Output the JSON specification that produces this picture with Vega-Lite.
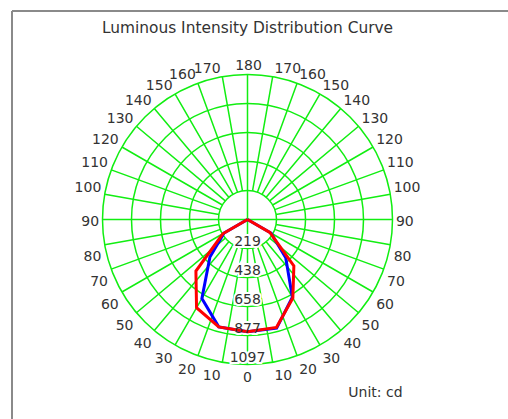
{
  "$schema": "https://vega.github.io/schema/vega-lite/v6.json",
  "width": 497,
  "height": 409,
  "autosize": {"type": "none"},
  "padding": {"left": 11, "top": 10, "right": 0, "bottom": 0},
  "background": "white",
  "title": {"text": "Luminous Intensity Distribution Curve", "font": "DejaVu Sans", "fontSize": 15.4, "fontWeight": "normal", "color": "#333333", "anchor": "middle", "frame": "group", "orient": "top", "offset": -38.5, "baseline": "alphabetic", "dx": -12},
  "config": {
    "view": {"stroke": null},
    "text": {"font": "DejaVu Sans", "fontSize": 14, "fill": "#333333"}
  },
  "datasets": {
    "rings": [
      {"cd": 219.4, "label": "219"},
      {"cd": 438.8, "label": "438"},
      {"cd": 658.2, "label": "658"},
      {"cd": 877.6, "label": "877"},
      {"cd": 1097, "label": "1097"}
    ],
    "spokes": [
      {"deg": 0, "inner": 0}, {"deg": 10, "inner": 219.4}, {"deg": 20, "inner": 219.4}, {"deg": 30, "inner": 219.4},
      {"deg": 40, "inner": 219.4}, {"deg": 50, "inner": 219.4}, {"deg": 60, "inner": 219.4}, {"deg": 70, "inner": 219.4},
      {"deg": 80, "inner": 219.4}, {"deg": 90, "inner": 0}, {"deg": 100, "inner": 219.4}, {"deg": 110, "inner": 219.4},
      {"deg": 120, "inner": 219.4}, {"deg": 130, "inner": 219.4}, {"deg": 140, "inner": 219.4}, {"deg": 150, "inner": 219.4},
      {"deg": 160, "inner": 219.4}, {"deg": 170, "inner": 219.4}, {"deg": 180, "inner": 0}, {"deg": 190, "inner": 219.4},
      {"deg": 200, "inner": 219.4}, {"deg": 210, "inner": 219.4}, {"deg": 220, "inner": 219.4}, {"deg": 230, "inner": 219.4},
      {"deg": 240, "inner": 219.4}, {"deg": 250, "inner": 219.4}, {"deg": 260, "inner": 219.4}, {"deg": 270, "inner": 0},
      {"deg": 280, "inner": 219.4}, {"deg": 290, "inner": 219.4}, {"deg": 300, "inner": 219.4}, {"deg": 310, "inner": 219.4},
      {"deg": 320, "inner": 219.4}, {"deg": 330, "inner": 219.4}, {"deg": 340, "inner": 219.4}, {"deg": 350, "inner": 219.4}
    ],
    "angles": [
      {"side": "L", "angle": 0, "label": "0"}, {"side": "L", "angle": 10, "label": "10"}, {"side": "L", "angle": 20, "label": "20"},
      {"side": "L", "angle": 30, "label": "30"}, {"side": "L", "angle": 40, "label": "40"}, {"side": "L", "angle": 50, "label": "50"},
      {"side": "L", "angle": 60, "label": "60"}, {"side": "L", "angle": 70, "label": "70"}, {"side": "L", "angle": 80, "label": "80"},
      {"side": "L", "angle": 90, "label": "90"}, {"side": "L", "angle": 100, "label": "100"}, {"side": "L", "angle": 110, "label": "110"},
      {"side": "L", "angle": 120, "label": "120"}, {"side": "L", "angle": 130, "label": "130"}, {"side": "L", "angle": 140, "label": "140"},
      {"side": "L", "angle": 150, "label": "150"}, {"side": "L", "angle": 160, "label": "160"}, {"side": "L", "angle": 170, "label": "170"},
      {"side": "L", "angle": 180, "label": "180"},
      {"side": "R", "angle": 10, "label": "10"}, {"side": "R", "angle": 20, "label": "20"}, {"side": "R", "angle": 30, "label": "30"},
      {"side": "R", "angle": 40, "label": "40"}, {"side": "R", "angle": 50, "label": "50"}, {"side": "R", "angle": 60, "label": "60"},
      {"side": "R", "angle": 70, "label": "70"}, {"side": "R", "angle": 80, "label": "80"}, {"side": "R", "angle": 90, "label": "90"},
      {"side": "R", "angle": 100, "label": "100"}, {"side": "R", "angle": 110, "label": "110"}, {"side": "R", "angle": 120, "label": "120"},
      {"side": "R", "angle": 130, "label": "130"}, {"side": "R", "angle": 140, "label": "140"}, {"side": "R", "angle": 150, "label": "150"},
      {"side": "R", "angle": 160, "label": "160"}, {"side": "R", "angle": 170, "label": "170"}
    ],
    "curves": [
      {"series": "C90/C270", "side": "L", "angle": 0, "cd": 850}, {"series": "C90/C270", "side": "L", "angle": 15, "cd": 841},
      {"series": "C90/C270", "side": "L", "angle": 30, "cd": 690}, {"series": "C90/C270", "side": "L", "angle": 45, "cd": 402},
      {"series": "C90/C270", "side": "L", "angle": 60, "cd": 205}, {"series": "C90/C270", "side": "L", "angle": 75, "cd": 0},
      {"series": "C90/C270", "side": "L", "angle": 90, "cd": 0},
      {"series": "C90/C270", "side": "R", "angle": 0, "cd": 850}, {"series": "C90/C270", "side": "R", "angle": 15, "cd": 851},
      {"series": "C90/C270", "side": "R", "angle": 30, "cd": 679}, {"series": "C90/C270", "side": "R", "angle": 45, "cd": 409},
      {"series": "C90/C270", "side": "R", "angle": 60, "cd": 205}, {"series": "C90/C270", "side": "R", "angle": 75, "cd": 0},
      {"series": "C90/C270", "side": "R", "angle": 90, "cd": 0},
      {"series": "C0/C180", "side": "L", "angle": 0, "cd": 850}, {"series": "C0/C180", "side": "L", "angle": 15, "cd": 841},
      {"series": "C0/C180", "side": "L", "angle": 30, "cd": 771}, {"series": "C0/C180", "side": "L", "angle": 45, "cd": 552},
      {"series": "C0/C180", "side": "L", "angle": 60, "cd": 216}, {"series": "C0/C180", "side": "L", "angle": 75, "cd": 0},
      {"series": "C0/C180", "side": "L", "angle": 90, "cd": 0},
      {"series": "C0/C180", "side": "R", "angle": 0, "cd": 850}, {"series": "C0/C180", "side": "R", "angle": 15, "cd": 845},
      {"series": "C0/C180", "side": "R", "angle": 30, "cd": 686}, {"series": "C0/C180", "side": "R", "angle": 45, "cd": 496},
      {"series": "C0/C180", "side": "R", "angle": 60, "cd": 195}, {"series": "C0/C180", "side": "R", "angle": 75, "cd": 0},
      {"series": "C0/C180", "side": "R", "angle": 90, "cd": 0}
    ],
    "note": [{"text": "Unit: cd", "nx": 762.6, "ny": -1339.1}]
  },
  "layer": [
    {
      "data": {"name": "rings"},
      "mark": {"type": "arc", "filled": false, "stroke": "#11ee11", "strokeWidth": 1.5, "theta": 0, "theta2": 6.2832},
      "encoding": {
        "x": {"datum": 0, "type": "quantitative", "scale": {"domain": [-1789.25, 1970.82], "nice": false, "zero": false}, "axis": {"orient": "top", "labels": false, "ticks": false, "grid": false, "title": null, "domainColor": "#8a8a8a", "domainWidth": 2, "translate": 1}},
        "y": {"datum": 0, "type": "quantitative", "scale": {"domain": [-1509.32, 1584.98], "nice": false, "zero": false}, "axis": {"orient": "left", "labels": false, "ticks": false, "grid": false, "title": null, "domainColor": "#8a8a8a", "domainWidth": 2, "translate": 1}},
        "radius": {"field": "cd", "type": "quantitative", "stack": null, "scale": {"type": "linear", "domain": [0, 1097], "range": [0, 145], "nice": false, "zero": true}}
      }
    },
    {
      "data": {"name": "spokes"},
      "transform": [{"calculate": "1097", "as": "outer"}],
      "mark": {"type": "arc", "filled": false, "stroke": "#11ee11", "strokeWidth": 1.5},
      "encoding": {
        "x": {"datum": 0, "type": "quantitative", "axis": {"orient": "top", "labels": false, "ticks": false, "grid": false, "title": null, "domainColor": "#8a8a8a", "domainWidth": 2, "translate": 1}},
        "y": {"datum": 0, "type": "quantitative", "axis": {"orient": "left", "labels": false, "ticks": false, "grid": false, "title": null, "domainColor": "#8a8a8a", "domainWidth": 2, "translate": 1}},
        "theta": {"field": "deg", "type": "quantitative", "stack": null, "scale": {"type": "linear", "domain": [0, 360], "range": [0, 6.283185307179586], "nice": false, "zero": false}},
        "theta2": {"field": "deg"},
        "radius": {"field": "outer", "type": "quantitative", "stack": null},
        "radius2": {"field": "inner"}
      }
    },
    {
      "data": {"name": "rings"},
      "transform": [{"calculate": "-datum.cd", "as": "ny"}],
      "mark": {"type": "text", "fill": "white", "stroke": "white", "strokeWidth": 4, "align": "center", "baseline": "alphabetic", "dy": -2.5},
      "encoding": {
        "x": {"datum": 0, "type": "quantitative", "axis": {"orient": "top", "labels": false, "ticks": false, "grid": false, "title": null, "domainColor": "#8a8a8a", "domainWidth": 2, "translate": 1}},
        "y": {"field": "ny", "type": "quantitative", "axis": {"orient": "left", "labels": false, "ticks": false, "grid": false, "title": null, "domainColor": "#8a8a8a", "domainWidth": 2, "translate": 1}},
        "text": {"field": "label"}
      }
    },
    {
      "data": {"name": "curves"},
      "transform": [
        {"calculate": "datum.angle * PI / 180", "as": "rad"},
        {"calculate": "(datum.side == 'L' ? -1 : 1) * datum.cd * sin(datum.rad)", "as": "px"},
        {"calculate": "-datum.cd * cos(datum.rad)", "as": "py"},
        {"calculate": "datum.side == 'L' ? -datum.angle : datum.angle", "as": "ord"}
      ],
      "mark": {"type": "line", "strokeWidth": 3, "strokeJoin": "miter"},
      "encoding": {
        "x": {"field": "px", "type": "quantitative", "axis": {"orient": "top", "labels": false, "ticks": false, "grid": false, "title": null, "domainColor": "#8a8a8a", "domainWidth": 2, "translate": 1}},
        "y": {"field": "py", "type": "quantitative", "axis": {"orient": "left", "labels": false, "ticks": false, "grid": false, "title": null, "domainColor": "#8a8a8a", "domainWidth": 2, "translate": 1}},
        "order": {"field": "ord", "type": "quantitative"},
        "color": {"field": "series", "type": "nominal", "scale": {"domain": ["C90/C270", "C0/C180"], "range": ["#0000ff", "#ff0000"]}, "legend": null}
      }
    },
    {
      "data": {"name": "rings"},
      "transform": [{"calculate": "-datum.cd", "as": "ny"}],
      "mark": {"type": "text", "align": "center", "baseline": "alphabetic", "dy": -2.5},
      "encoding": {
        "x": {"datum": 0, "type": "quantitative", "axis": {"orient": "top", "labels": false, "ticks": false, "grid": false, "title": null, "domainColor": "#8a8a8a", "domainWidth": 2, "translate": 1}},
        "y": {"field": "ny", "type": "quantitative", "axis": {"orient": "left", "labels": false, "ticks": false, "grid": false, "title": null, "domainColor": "#8a8a8a", "domainWidth": 2, "translate": 1}},
        "text": {"field": "label"}
      }
    },
    {
      "data": {"name": "angles"},
      "transform": [
        {"filter": "datum.side == 'L' && datum.angle > 90 && datum.angle < 180"},
        {"calculate": "180 + datum.angle", "as": "th"}, {"calculate": "1097", "as": "outer"}
      ],
      "mark": {"type": "text", "align": "right", "baseline": "alphabetic", "radiusOffset": 2, "dx": -1.4, "dy": -2},
      "encoding": {
        "x": {"datum": 0, "type": "quantitative", "axis": {"orient": "top", "labels": false, "ticks": false, "grid": false, "title": null, "domainColor": "#8a8a8a", "domainWidth": 2, "translate": 1}},
        "y": {"datum": 0, "type": "quantitative", "axis": {"orient": "left", "labels": false, "ticks": false, "grid": false, "title": null, "domainColor": "#8a8a8a", "domainWidth": 2, "translate": 1}},
        "theta": {"field": "th", "type": "quantitative", "stack": null},
        "radius": {"field": "outer", "type": "quantitative", "stack": null},
        "text": {"field": "label"}
      }
    },
    {
      "data": {"name": "angles"},
      "transform": [
        {"filter": "datum.side == 'L' && datum.angle > 0 && datum.angle < 90"},
        {"calculate": "180 + datum.angle", "as": "th"}, {"calculate": "1097", "as": "outer"}
      ],
      "mark": {"type": "text", "align": "right", "baseline": "alphabetic", "radiusOffset": 2, "dx": -1.4, "dy": 16},
      "encoding": {
        "x": {"datum": 0, "type": "quantitative", "axis": {"orient": "top", "labels": false, "ticks": false, "grid": false, "title": null, "domainColor": "#8a8a8a", "domainWidth": 2, "translate": 1}},
        "y": {"datum": 0, "type": "quantitative", "axis": {"orient": "left", "labels": false, "ticks": false, "grid": false, "title": null, "domainColor": "#8a8a8a", "domainWidth": 2, "translate": 1}},
        "theta": {"field": "th", "type": "quantitative", "stack": null},
        "radius": {"field": "outer", "type": "quantitative", "stack": null},
        "text": {"field": "label"}
      }
    },
    {
      "data": {"name": "angles"},
      "transform": [
        {"filter": "datum.side == 'L' && datum.angle == 90"},
        {"calculate": "180 + datum.angle", "as": "th"}, {"calculate": "1097", "as": "outer"}
      ],
      "mark": {"type": "text", "align": "right", "baseline": "alphabetic", "radiusOffset": 2, "dx": -1.4, "dy": 6.5},
      "encoding": {
        "x": {"datum": 0, "type": "quantitative", "axis": {"orient": "top", "labels": false, "ticks": false, "grid": false, "title": null, "domainColor": "#8a8a8a", "domainWidth": 2, "translate": 1}},
        "y": {"datum": 0, "type": "quantitative", "axis": {"orient": "left", "labels": false, "ticks": false, "grid": false, "title": null, "domainColor": "#8a8a8a", "domainWidth": 2, "translate": 1}},
        "theta": {"field": "th", "type": "quantitative", "stack": null},
        "radius": {"field": "outer", "type": "quantitative", "stack": null},
        "text": {"field": "label"}
      }
    },
    {
      "data": {"name": "angles"},
      "transform": [
        {"filter": "datum.side == 'R' && datum.angle > 90 && datum.angle < 180"},
        {"calculate": "180 - datum.angle", "as": "th"}, {"calculate": "1097", "as": "outer"}
      ],
      "mark": {"type": "text", "align": "left", "baseline": "alphabetic", "radiusOffset": 2, "dx": 1.4, "dy": -2},
      "encoding": {
        "x": {"datum": 0, "type": "quantitative", "axis": {"orient": "top", "labels": false, "ticks": false, "grid": false, "title": null, "domainColor": "#8a8a8a", "domainWidth": 2, "translate": 1}},
        "y": {"datum": 0, "type": "quantitative", "axis": {"orient": "left", "labels": false, "ticks": false, "grid": false, "title": null, "domainColor": "#8a8a8a", "domainWidth": 2, "translate": 1}},
        "theta": {"field": "th", "type": "quantitative", "stack": null},
        "radius": {"field": "outer", "type": "quantitative", "stack": null},
        "text": {"field": "label"}
      }
    },
    {
      "data": {"name": "angles"},
      "transform": [
        {"filter": "datum.side == 'R' && datum.angle > 0 && datum.angle < 90"},
        {"calculate": "180 - datum.angle", "as": "th"}, {"calculate": "1097", "as": "outer"}
      ],
      "mark": {"type": "text", "align": "left", "baseline": "alphabetic", "radiusOffset": 2, "dx": 1.4, "dy": 16},
      "encoding": {
        "x": {"datum": 0, "type": "quantitative", "axis": {"orient": "top", "labels": false, "ticks": false, "grid": false, "title": null, "domainColor": "#8a8a8a", "domainWidth": 2, "translate": 1}},
        "y": {"datum": 0, "type": "quantitative", "axis": {"orient": "left", "labels": false, "ticks": false, "grid": false, "title": null, "domainColor": "#8a8a8a", "domainWidth": 2, "translate": 1}},
        "theta": {"field": "th", "type": "quantitative", "stack": null},
        "radius": {"field": "outer", "type": "quantitative", "stack": null},
        "text": {"field": "label"}
      }
    },
    {
      "data": {"name": "angles"},
      "transform": [
        {"filter": "datum.side == 'R' && datum.angle == 90"},
        {"calculate": "180 - datum.angle", "as": "th"}, {"calculate": "1097", "as": "outer"}
      ],
      "mark": {"type": "text", "align": "left", "baseline": "alphabetic", "radiusOffset": 2, "dx": 1.4, "dy": 6.5},
      "encoding": {
        "x": {"datum": 0, "type": "quantitative", "axis": {"orient": "top", "labels": false, "ticks": false, "grid": false, "title": null, "domainColor": "#8a8a8a", "domainWidth": 2, "translate": 1}},
        "y": {"datum": 0, "type": "quantitative", "axis": {"orient": "left", "labels": false, "ticks": false, "grid": false, "title": null, "domainColor": "#8a8a8a", "domainWidth": 2, "translate": 1}},
        "theta": {"field": "th", "type": "quantitative", "stack": null},
        "radius": {"field": "outer", "type": "quantitative", "stack": null},
        "text": {"field": "label"}
      }
    },
    {
      "data": {"name": "angles"},
      "transform": [
        {"filter": "datum.angle == 180"},
        {"calculate": "360", "as": "th"}, {"calculate": "1097", "as": "outer"}
      ],
      "mark": {"type": "text", "align": "center", "baseline": "alphabetic", "radiusOffset": 2, "dx": 1, "dy": -3},
      "encoding": {
        "x": {"datum": 0, "type": "quantitative", "axis": {"orient": "top", "labels": false, "ticks": false, "grid": false, "title": null, "domainColor": "#8a8a8a", "domainWidth": 2, "translate": 1}},
        "y": {"datum": 0, "type": "quantitative", "axis": {"orient": "left", "labels": false, "ticks": false, "grid": false, "title": null, "domainColor": "#8a8a8a", "domainWidth": 2, "translate": 1}},
        "theta": {"field": "th", "type": "quantitative", "stack": null},
        "radius": {"field": "outer", "type": "quantitative", "stack": null},
        "text": {"field": "label"}
      }
    },
    {
      "data": {"name": "angles"},
      "transform": [
        {"filter": "datum.angle == 0"},
        {"calculate": "180", "as": "th"}, {"calculate": "1097", "as": "outer"}
      ],
      "mark": {"type": "text", "align": "center", "baseline": "alphabetic", "radiusOffset": 2, "dy": 15.5},
      "encoding": {
        "x": {"datum": 0, "type": "quantitative", "axis": {"orient": "top", "labels": false, "ticks": false, "grid": false, "title": null, "domainColor": "#8a8a8a", "domainWidth": 2, "translate": 1}},
        "y": {"datum": 0, "type": "quantitative", "axis": {"orient": "left", "labels": false, "ticks": false, "grid": false, "title": null, "domainColor": "#8a8a8a", "domainWidth": 2, "translate": 1}},
        "theta": {"field": "th", "type": "quantitative", "stack": null},
        "radius": {"field": "outer", "type": "quantitative", "stack": null},
        "text": {"field": "label"}
      }
    },
    {
      "data": {"name": "note"},
      "mark": {"type": "text", "align": "left", "baseline": "alphabetic"},
      "encoding": {
        "x": {"field": "nx", "type": "quantitative", "axis": {"orient": "top", "labels": false, "ticks": false, "grid": false, "title": null, "domainColor": "#8a8a8a", "domainWidth": 2, "translate": 1}},
        "y": {"field": "ny", "type": "quantitative", "axis": {"orient": "left", "labels": false, "ticks": false, "grid": false, "title": null, "domainColor": "#8a8a8a", "domainWidth": 2, "translate": 1}},
        "text": {"field": "text"}
      }
    }
  ]
}
